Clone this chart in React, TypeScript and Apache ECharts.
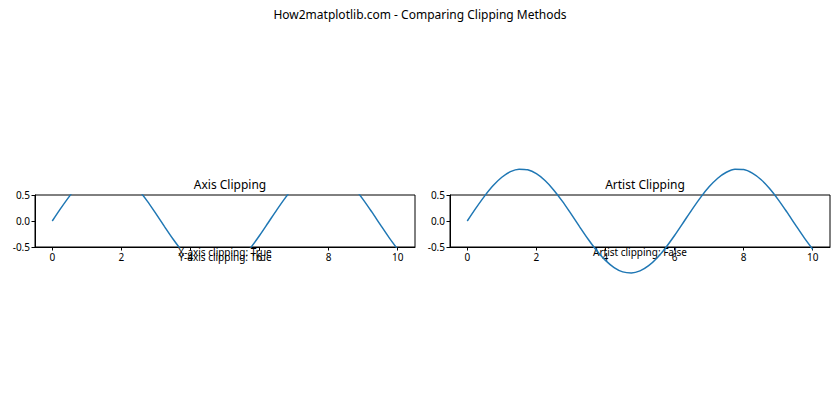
import React, { useEffect, useRef } from "react";
import * as echarts from "echarts";

const xValues = [0, 0.25, 0.5, 0.75, 1, 1.25, 1.5, 1.75, 2, 2.25, 2.5, 2.75, 3, 3.25, 3.5, 3.75, 4, 4.25, 4.5, 4.75, 5, 5.25, 5.5, 5.75, 6, 6.25, 6.5, 6.75, 7, 7.25, 7.5, 7.75, 8, 8.25, 8.5, 8.75, 9, 9.25, 9.5, 9.75, 10];
const yValues = [0, 0.247, 0.479, 0.682, 0.841, 0.949, 0.997, 0.984, 0.909, 0.778, 0.598, 0.382, 0.141, -0.108, -0.351, -0.572, -0.757, -0.895, -0.978, -0.999, -0.959, -0.859, -0.706, -0.508, -0.279, -0.033, 0.215, 0.45, 0.657, 0.823, 0.938, 0.996, 0.989, 0.92, 0.798, 0.625, 0.412, 0.174, -0.075, -0.319, -0.544];
const xTicks = [0, 2, 4, 6, 8, 10];
const mainTitle = "How2matplotlib.com - Comparing Clipping Methods";
const subTitles = ["Axis Clipping", "Artist Clipping"];
const leftNotes = ["X-axis clipping: True", "Y-axis clipping: True"];
const rightNotes = ["Artist clipping: False"];

const FONT = "Noto Sans";

export default function App() {
  const ref = useRef<HTMLDivElement>(null);
  useEffect(() => {
    if (!ref.current) return;
    const chart = echarts.init(ref.current, undefined, { renderer: "svg" });
    const data = xValues.map((x, i) => [x, yValues[i]]);
    const grids = [
      { left: 35, top: 195, width: 380, height: 52 },
      { left: 450, top: 195, width: 380, height: 52 },
    ];
    const mkX = (i: number) => ({
      type: "value",
      gridIndex: i,
      min: -0.5,
      max: 10.5,
      splitLine: { show: false },
      axisLine: { show: true, onZero: false, lineStyle: { color: "#000", width: 1 } },
      axisTick: { show: true, customValues: xTicks, length: 3.5, lineStyle: { color: "#000" } },
      axisLabel: { customValues: xTicks, color: "#000", fontSize: 10, fontFamily: FONT, margin: 5 },
    });
    const mkY = (i: number) => ({
      type: "value",
      gridIndex: i,
      min: -0.5,
      max: 0.5,
      interval: 0.5,
      splitLine: { show: false },
      axisLine: { show: true, onZero: false, lineStyle: { color: "#000", width: 1 } },
      axisTick: { show: true, length: 3.5, lineStyle: { color: "#000" } },
      axisLabel: {
        color: "#000",
        fontSize: 10,
        fontFamily: FONT,
        margin: 5,
        formatter: (v: number) => v.toFixed(1),
      },
    });
    chart.setOption({
      animation: false,
      backgroundColor: "#fff",
      title: [
        { text: mainTitle, left: "center", top: 3, textStyle: { fontSize: 12, fontWeight: "normal", color: "#000", fontFamily: FONT } },
        { text: subTitles[0], left: 225, textAlign: "center", top: 173, textStyle: { fontSize: 12, fontWeight: "normal", color: "#000", fontFamily: FONT } },
        { text: subTitles[1], left: 640, textAlign: "center", top: 173, textStyle: { fontSize: 12, fontWeight: "normal", color: "#000", fontFamily: FONT } },
      ],
      grid: grids.map((g) => ({ ...g, show: true, borderColor: "#000", borderWidth: 1, backgroundColor: "transparent" })),
      xAxis: [mkX(0), mkX(1)],
      yAxis: [mkY(0), mkY(1)],
      series: [
        {
          type: "line", xAxisIndex: 0, yAxisIndex: 0, data, showSymbol: false, smooth: 0.3, clip: true,
          lineStyle: { color: "#1f77b4", width: 1.5 }, itemStyle: { color: "#1f77b4" },
        },
        {
          type: "line", xAxisIndex: 1, yAxisIndex: 1, data, showSymbol: false, smooth: 0.3, clip: false,
          lineStyle: { color: "#1f77b4", width: 1.5 }, itemStyle: { color: "#1f77b4" },
        },
      ],
    });
    const p1 = chart.convertToPixel({ gridIndex: 0 }, [5, -0.5]) as number[];
    const p2 = chart.convertToPixel({ gridIndex: 1 }, [5, -0.5]) as number[];
    chart.setOption({
      graphic: [
        { type: "text", x: p1[0], y: p1[1] + 5, style: { text: leftNotes[0], align: "center", verticalAlign: "middle", fontSize: 10, fontFamily: FONT, fill: "#000" } },
        { type: "text", x: p1[0], y: p1[1] + 10, style: { text: leftNotes[1], align: "center", verticalAlign: "middle", fontSize: 10, fontFamily: FONT, fill: "#000" } },
        { type: "text", x: p2[0], y: p2[1] + 5, style: { text: rightNotes[0], align: "center", verticalAlign: "middle", fontSize: 10, fontFamily: FONT, fill: "#000" } },
      ],
    });
    return () => chart.dispose();
  }, []);
  return <div ref={ref} style={{ position: "fixed", left: 0, top: 0, width: 840, height: 420 }} />;
}
